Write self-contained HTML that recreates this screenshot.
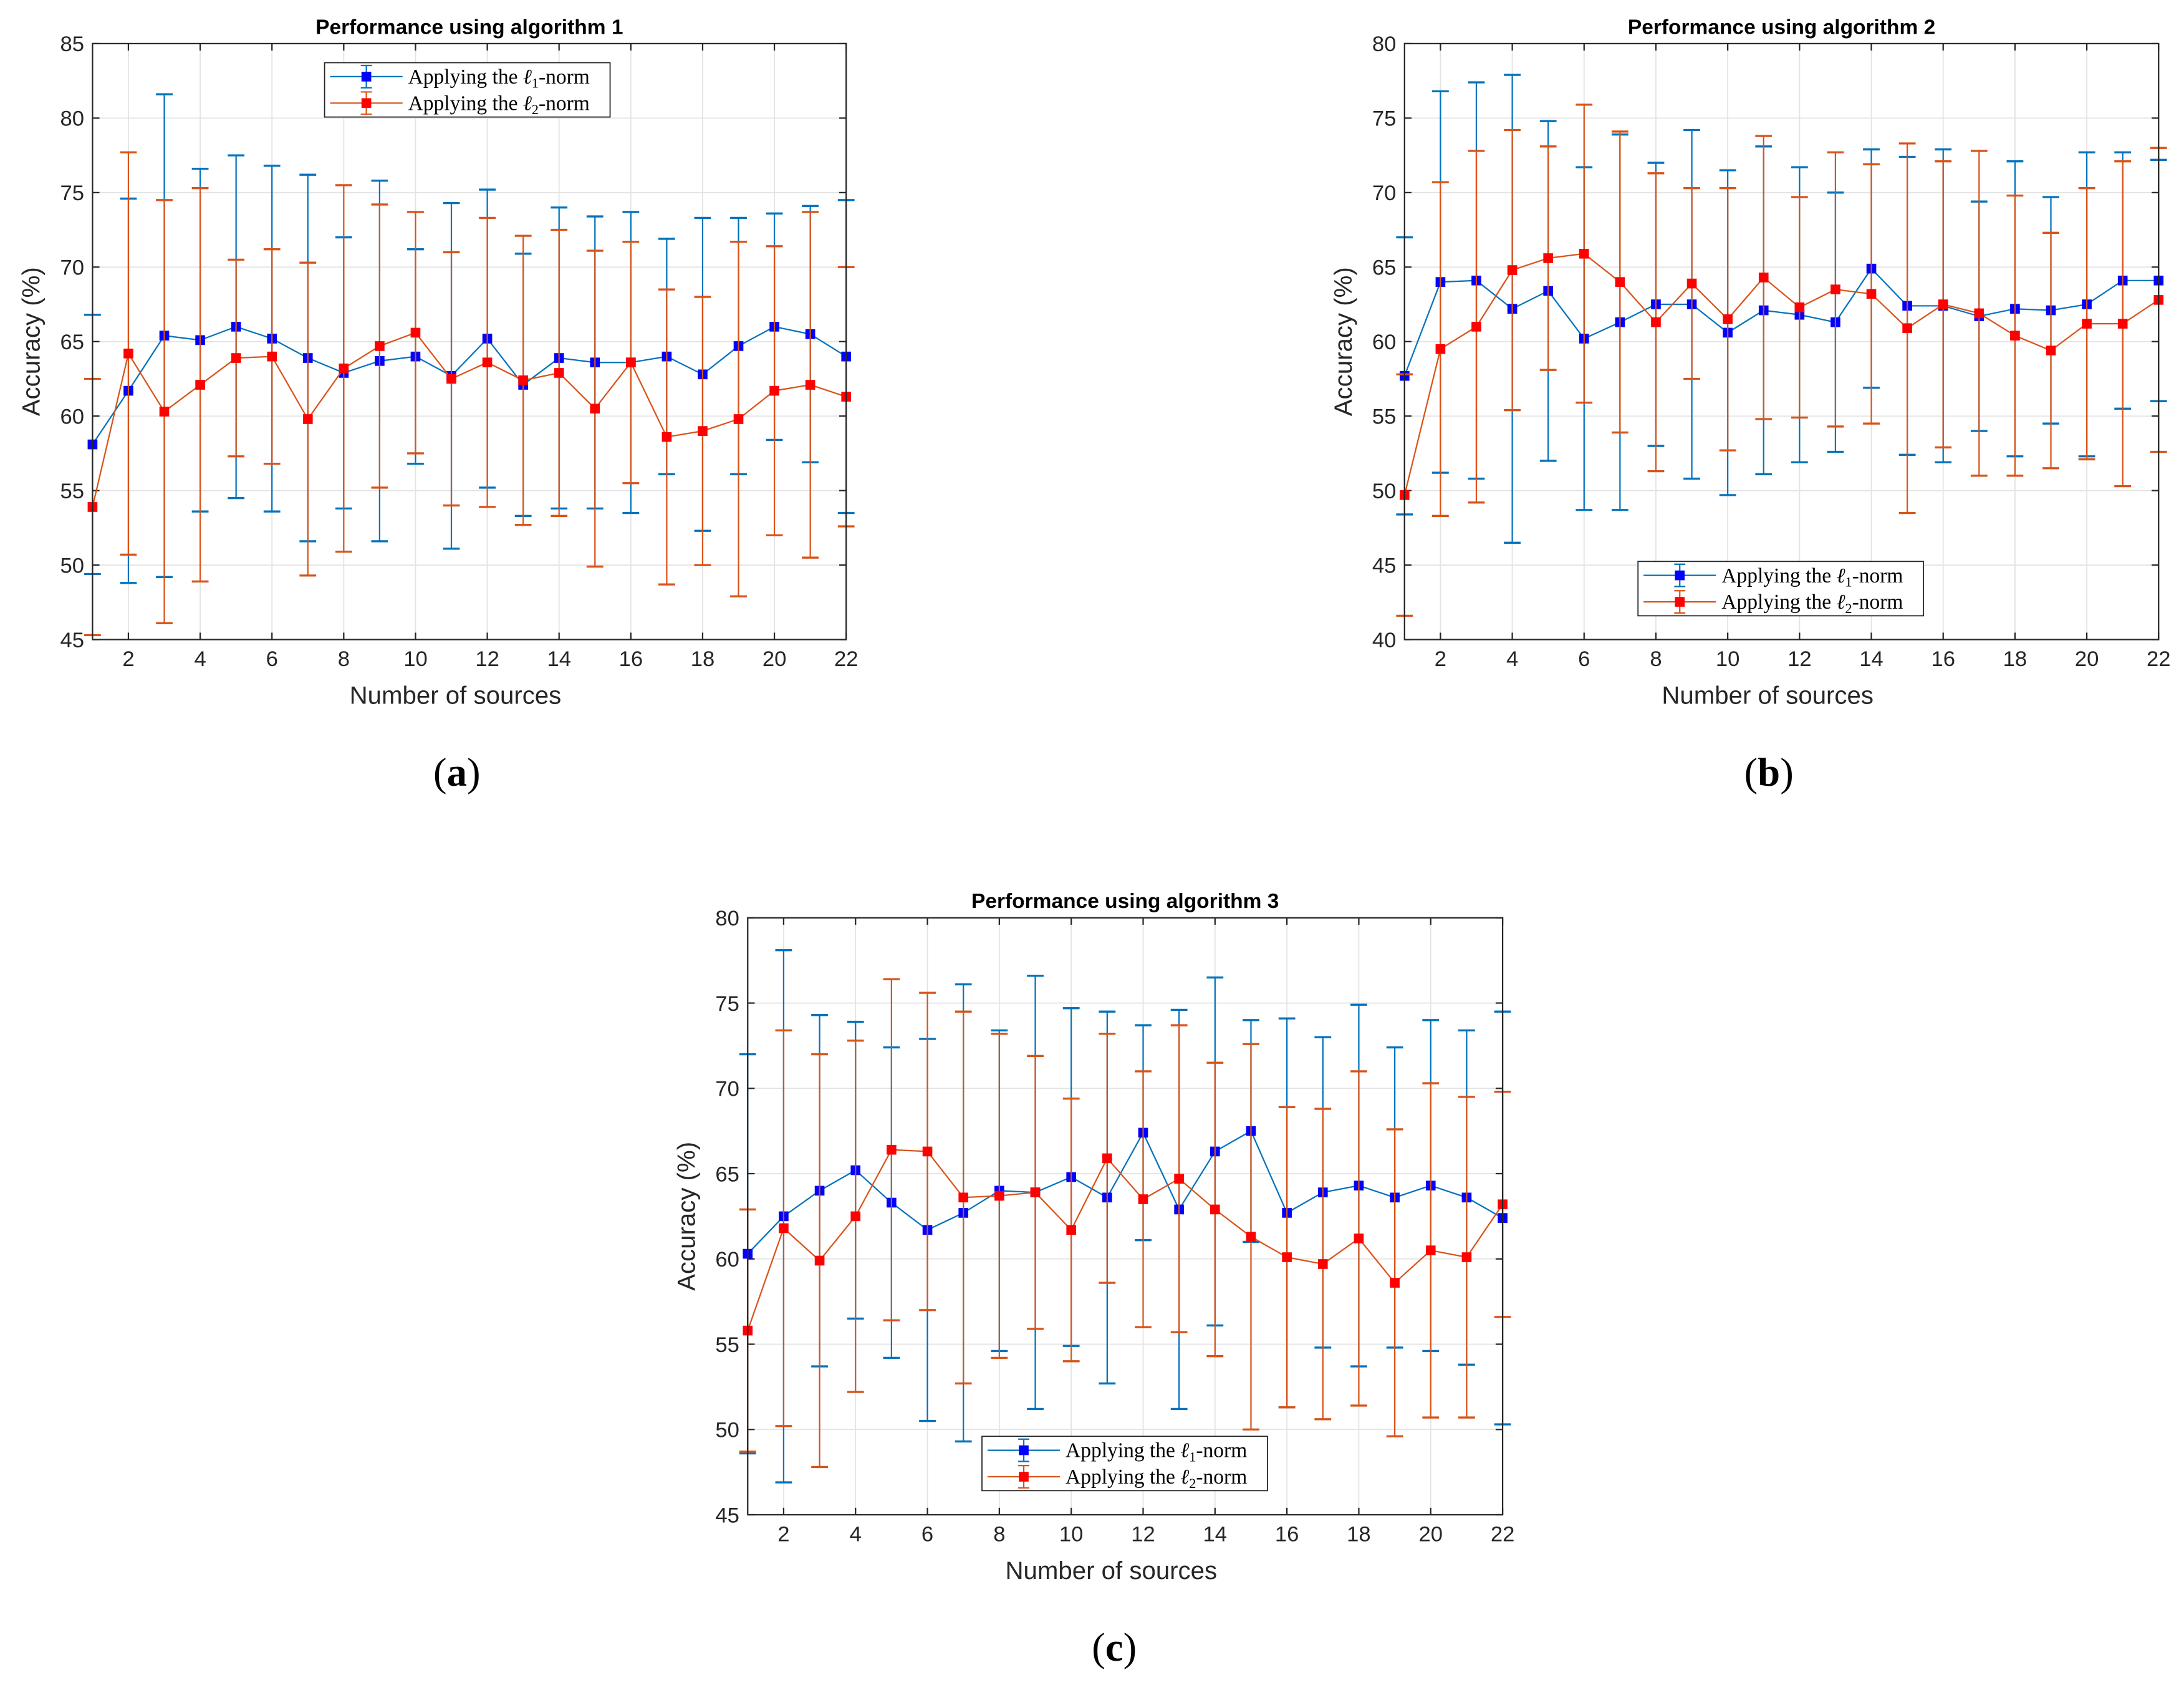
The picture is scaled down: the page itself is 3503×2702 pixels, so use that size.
<!DOCTYPE html>
<html><head><meta charset="utf-8">
<style>html,body{margin:0;padding:0;background:#fff}svg{display:block}</style></head>
<body>
<svg id="root" width="3503" height="2702" viewBox="0 0 1568 1209.5" xmlns="http://www.w3.org/2000/svg" font-family="Liberation Sans, sans-serif"></svg>
<script>
const xCategories=[1,2,3,4,5,6,7,8,9,10,11,12,13,14,15,16,17,18,19,20,21,22];
const aL1Mean=[58.1,61.7,65.4,65.1,66.0,65.2,63.9,62.9,63.7,64.0,62.7,65.2,62.1,63.9,63.6,63.6,64.0,62.8,64.7,66.0,65.5,64.0];
const aL1Std=[8.7,12.9,16.2,11.5,11.5,11.6,12.3,9.1,12.1,7.2,11.6,10.0,8.8,10.1,9.8,10.1,7.9,10.5,8.6,7.6,8.6,10.5];
const aL2Mean=[53.9,64.2,60.3,62.1,63.9,64.0,59.8,63.2,64.7,65.6,62.5,63.6,62.4,62.9,60.5,63.6,58.6,59.0,59.8,61.7,62.1,61.3];
const aL2Std=[8.6,13.5,14.2,13.2,6.6,7.2,10.5,12.3,9.5,8.1,8.5,9.7,9.7,9.6,10.6,8.1,9.9,9.0,11.9,9.7,11.6,8.7];
const bL1Mean=[57.7,64.0,64.1,62.2,63.4,60.2,61.3,62.5,62.5,60.6,62.1,61.8,61.3,64.9,62.4,62.4,61.7,62.2,62.1,62.5,64.1,64.1];
const bL1Std=[9.3,12.8,13.3,15.7,11.4,11.5,12.6,9.5,11.7,10.9,11.0,9.9,8.7,8.0,10.0,10.5,7.7,9.9,7.6,10.2,8.6,8.1];
const bL2Mean=[49.7,59.5,61.0,64.8,65.6,65.9,64.0,61.3,63.9,61.5,64.3,62.3,63.5,63.2,60.9,62.5,61.9,60.4,59.4,61.2,61.2,62.8];
const bL2Std=[8.1,11.2,11.8,9.4,7.5,10.0,10.1,10.0,6.4,8.8,9.5,7.4,9.2,8.7,12.4,9.6,10.9,9.4,7.9,9.1,10.9,10.2];
const cL1Mean=[60.3,62.5,64.0,65.2,63.3,61.7,62.7,64.0,63.9,64.8,63.6,67.4,62.9,66.3,67.5,62.7,63.9,64.3,63.6,64.3,63.6,62.4];
const cL1Std=[11.7,15.6,10.3,8.7,9.1,11.2,13.4,9.4,12.7,9.9,10.9,6.3,11.7,10.2,6.5,11.4,9.1,10.6,8.8,9.7,9.8,12.1];
const cL2Mean=[55.8,61.8,59.9,62.5,66.4,66.3,63.6,63.7,63.9,61.7,65.9,63.5,64.7,62.9,61.3,60.1,59.7,61.2,58.6,60.5,60.1,63.2];
const cL2Std=[7.1,11.6,12.1,10.3,10.0,9.3,10.9,9.5,8.0,7.7,7.3,7.5,9.0,8.6,11.3,8.8,9.1,9.8,9.0,9.8,9.4,6.6];
const xTicks=[2,4,6,8,10,12,14,16,18,20,22];
const aYTicks=[45,50,55,60,65,70,75,80,85];
const bYTicks=[40,45,50,55,60,65,70,75,80];
const cYTicks=[45,50,55,60,65,70,75,80];

const NS="http://www.w3.org/2000/svg";
const root=document.getElementById('root');
function mk(tag,attrs,parent){const e=document.createElementNS(NS,tag);for(const k in attrs)e.setAttribute(k,attrs[k]);(parent||root).appendChild(e);return e;}

function panel(id,box,yTicks,title,s1m,s1s,s2m,s2s,leg,cap){
  const g=mk('g',{});
  
  
  const [x0,y0,x1,y1]=box, ymin=yTicks[0], ymax=yTicks[yTicks.length-1];
  const sx=v=>x0+(v-1)/21*(x1-x0), sy=v=>y1-(v-ymin)/(ymax-ymin)*(y1-y0);
  mk('rect',{x:x0,y:y0,width:x1-x0,height:y1-y0,fill:'#fff'},g);
  for(const t of xTicks){mk('line',{x1:sx(t),x2:sx(t),y1:y0,y2:y1,stroke:'#e3e3e3','stroke-width':0.8},g);
    mk('line',{x1:sx(t),x2:sx(t),y1:y0,y2:y0+5,stroke:'#262626','stroke-width':1},g);
    mk('line',{x1:sx(t),x2:sx(t),y1:y1,y2:y1-5,stroke:'#262626','stroke-width':1},g);
    const tx=mk('text',{x:sx(t),y:y1+19,'font-size':15.5,'text-anchor':'middle',fill:'#262626'},g);tx.textContent=t;
    
    }
  for(const t of yTicks){mk('line',{x1:x0,x2:x1,y1:sy(t),y2:sy(t),stroke:'#e3e3e3','stroke-width':0.8},g);
    mk('line',{x1:x0,x2:x0+5,y1:sy(t),y2:sy(t),stroke:'#262626','stroke-width':1},g);
    mk('line',{x1:x1,x2:x1-5,y1:sy(t),y2:sy(t),stroke:'#262626','stroke-width':1},g);
    const tx=mk('text',{x:x0-6,y:sy(t)+5.5,'font-size':15.5,'text-anchor':'end',fill:'#262626'},g);tx.textContent=t;
    
    }
  const series=[[s1m,s1s,'#0072BD','#0000ff'],[s2m,s2s,'#D95319','#ff0000']];
  series.forEach(([m,s,lc,mc],si)=>{
    const sg=mk('g',{},g);
    
    
    m.forEach((v,i)=>{const x=sx(xCategories[i]),yt=sy(v+s[i]),yb=sy(v-s[i]);
      mk('line',{x1:x,x2:x,y1:yt,y2:yb,stroke:lc,'stroke-width':1},sg);
      mk('line',{x1:x-6,x2:x+6,y1:yt,y2:yt,stroke:lc,'stroke-width':1.5},sg);
      mk('line',{x1:x-6,x2:x+6,y1:yb,y2:yb,stroke:lc,'stroke-width':1.5},sg);});
    mk('polyline',{points:m.map((v,i)=>sx(xCategories[i])+','+sy(v)).join(' '),fill:'none',stroke:lc,'stroke-width':1},sg);
    m.forEach((v,i)=>{const r=mk('rect',{x:sx(xCategories[i])-3.5,y:sy(v)-3.5,width:7,height:7,fill:mc},sg);
      
      });
  });
  mk('rect',{x:x0,y:y0,width:x1-x0,height:y1-y0,fill:'none',stroke:'#262626','stroke-width':1},g);
  const tt=mk('text',{x:(x0+x1)/2,y:y0-7,'font-size':15,'font-weight':'bold','text-anchor':'middle',fill:'#000'},g);tt.textContent=title;
  
  
  const xl=mk('text',{x:(x0+x1)/2-10,y:y1+46,'font-size':18,'text-anchor':'middle',fill:'#262626'},g);xl.textContent='Number of sources';
  
  
  const yl=mk('text',{x:0,y:0,'font-size':18,'text-anchor':'middle',fill:'#262626',transform:`translate(${x0-38},${(y0+y1)/2}) rotate(-90)`},g);yl.textContent='Accuracy (%)';
  
  
  const [lx,ly]=leg;
  const lg=mk('g',{},g);
  
  
  mk('rect',{x:lx,y:ly,width:205,height:39,fill:'#fff',stroke:'#262626','stroke-width':0.8},lg);
  [['#0072BD','#0000ff','1'],['#D95319','#ff0000','2']].forEach(([lc,mc,n],k)=>{
    const yy=ly+10+k*19;
    mk('line',{x1:lx+4,x2:lx+56,y1:yy,y2:yy,stroke:lc,'stroke-width':1},lg);
    mk('line',{x1:lx+30,x2:lx+30,y1:yy-8,y2:yy+8,stroke:lc,'stroke-width':1},lg);
    mk('line',{x1:lx+26,x2:lx+34,y1:yy-8,y2:yy-8,stroke:lc,'stroke-width':1},lg);
    mk('line',{x1:lx+26,x2:lx+34,y1:yy+8,y2:yy+8,stroke:lc,'stroke-width':1},lg);
    mk('rect',{x:lx+26.5,y:yy-3.5,width:7,height:7,fill:mc},lg);
    const t=mk('text',{x:lx+60,y:yy+5,'font-size':15,'font-family':'Liberation Serif, serif',fill:'#000'},lg);
    t.innerHTML='Applying the <tspan font-style="italic">ℓ</tspan><tspan font-size="10" dy="3">'+n+'</tspan><tspan dy="-3">-norm</tspan>';
    
    
  });
  const c=mk('text',{x:cap[0],y:cap[1],'font-size':29,'font-family':'Liberation Serif, serif','text-anchor':'middle',fill:'#000'},g);
  c.innerHTML='(<tspan font-weight="bold">'+cap[2]+'</tspan>)';
  
  
}
panel('chart-algorithm-1',[66.4,31.3,607.5,459.1],aYTicks,'Performance using algorithm 1',aL1Mean,aL1Std,aL2Mean,aL2Std,[233,45],[328,564,'a']);
panel('chart-algorithm-2',[1008.4,31.3,1549.8,459.1],bYTicks,'Performance using algorithm 2',bL1Mean,bL1Std,bL2Mean,bL2Std,[1176,403],[1270,564,'b']);
panel('chart-algorithm-3',[536.8,658.8,1078.8,1087.3],cYTicks,'Performance using algorithm 3',cL1Mean,cL1Std,cL2Mean,cL2Std,[705,1031],[800,1192,'c']);
</script>
</body></html>
